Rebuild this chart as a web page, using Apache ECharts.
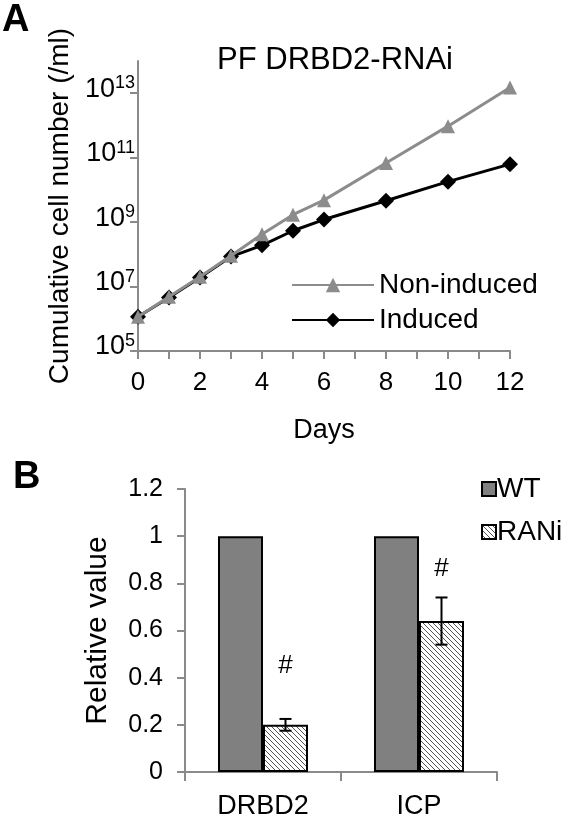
<!DOCTYPE html>
<html>
<head>
<meta charset="utf-8">
<script src="https://cdn.jsdelivr.net/npm/echarts@6/dist/echarts.min.js"></script>
<style>
html,body{margin:0;padding:0;background:#fff;}
#main{width:570px;height:820px;}
</style>
</head>
<body>
<div id="main"></div>
<script>
/*----- 数据 A: 累计细胞数 -----*/
var days = [0, 1, 2, 3, 4, 5, 6, 8, 10, 12];
var nonInduced = [1.15e6, 4.8e6, 2.0e7, 9.0e7, 4.2e8, 1.7e9, 4.8e9, 6.8e10, 9.5e11, 1.5e13];
var induced    = [1.15e6, 4.6e6, 1.9e7, 8.5e7, 1.9e8, 5.4e8, 1.2e9, 4.6e9, 1.8e10, 6.3e10];
var yExpTicks = [5, 7, 9, 11, 13];

/*----- 数据 B: 相对值 -----*/
var genes = ["DRBD2", "ICP"];
var wt = [1, 1];
var rnai = [0.2, 0.64];
var rnaiErr = [0.025, 0.1];
var hashY = [0.45, 0.86];

var FONT = "Liberation Sans, Arial, sans-serif";
var AXIS_GRAY = "#8a8a8a";

// 斜线填充
function hatch() {
    var c = document.createElement("canvas");
    c.width = 5; c.height = 5;
    var ctx = c.getContext("2d");
    ctx.fillStyle = "#fff";
    ctx.fillRect(0, 0, 5, 5);
    ctx.strokeStyle = "#555";
    ctx.lineWidth = 1;
    ctx.beginPath();
    ctx.moveTo(-1, -1); ctx.lineTo(6, 6);
    ctx.moveTo(-1, 4); ctx.lineTo(1, 6);
    ctx.moveTo(4, -1); ctx.lineTo(6, 1);
    ctx.stroke();
    return {image: c, repeat: "repeat"};
}

function toLog(arr) {
    return arr.map(function (v, i) { return [days[i], Math.log10(v)]; });
}

var BAR_W = 45;

var myChart = echarts.init(document.getElementById("main"));
var option = {
    animation: false,
    textStyle: {fontFamily: FONT, color: "#000"},
    title: {
        text: "PF DRBD2-RNAi", left: 330, top: 40, textAlign: "center",
        textStyle: {fontFamily: FONT, fontSize: 31, fontWeight: "normal", color: "#000"}
    },
    graphic: [
        {type: "text", left: 2, top: 2, style: {text: "A", font: "bold 38px " + FONT, fill: "#000"}},
        {type: "text", left: 13, top: 459, style: {text: "B", font: "bold 38px " + FONT, fill: "#000"}}
    ],
    legend: [
        {
            data: ["Non-induced", "Induced"], orient: "vertical",
            left: 286, top: 266, itemWidth: 82, itemHeight: 18, itemGap: 7,
            textStyle: {fontFamily: FONT, fontSize: 28, color: "#000"}
        },
        {
            data: ["WT", "RANi"], orient: "vertical",
            left: 476, top: 470, itemWidth: 14, itemHeight: 14, itemGap: 15, icon: "rect",
            textStyle: {fontFamily: FONT, fontSize: 28, color: "#000", padding: [0, 0, 0, -4]}
        }
    ],
    grid: [
        {left: 138, top: 61, width: 372, height: 290},
        {left: 185, top: 489, width: 312, height: 284}
    ],
    xAxis: [
        {
            gridIndex: 0, type: "value", min: 0, max: 12, interval: 1,
            name: "Days", nameLocation: "middle", nameGap: 66,
            nameTextStyle: {fontSize: 27, fontFamily: FONT, color: "#000"},
            axisLine: {lineStyle: {color: AXIS_GRAY, width: 2}},
            axisTick: {show: true, inside: false, length: 8, lineStyle: {color: AXIS_GRAY, width: 2}},
            axisLabel: {fontSize: 26, color: "#000", margin: 19, formatter: function (v) { return v % 2 ? "" : v; }},
            splitLine: {show: false}
        },
        {
            gridIndex: 1, type: "category", data: genes,
            axisLine: {lineStyle: {color: AXIS_GRAY, width: 2}},
            axisTick: {show: true, length: 9, alignWithLabel: false, lineStyle: {color: AXIS_GRAY, width: 2}},
            axisLabel: {fontSize: 27, color: "#000", margin: 21}
        }
    ],
    yAxis: [
        {
            gridIndex: 0, type: "value", min: 5, max: 14, interval: 2,
            name: "Cumulative cell number (/ml)", nameLocation: "middle", nameGap: 64, nameRotate: 90,
            nameTextStyle: {fontSize: 28, fontFamily: FONT, color: "#000"},
            axisLine: {show: true, lineStyle: {color: AXIS_GRAY, width: 2}},
            axisTick: {show: true, length: 8, customValues: yExpTicks, lineStyle: {color: AXIS_GRAY, width: 2}},
            axisLabel: {
                customValues: yExpTicks, margin: 3, padding: [0, 0, 8, 0],
                formatter: function (v) { return "{b|10}{s|" + v + "}"; },
                rich: {
                    b: {fontSize: 27, color: "#000", fontFamily: FONT},
                    s: {fontSize: 18, color: "#000", fontFamily: FONT, verticalAlign: "top", padding: [0, 0, 12, 0]}
                }
            },
            splitLine: {show: false}
        },
        {
            gridIndex: 1, type: "value", min: 0, max: 1.2, interval: 0.2,
            name: "Relative value", nameLocation: "middle", nameGap: 72, nameRotate: 90,
            nameTextStyle: {fontSize: 30, fontFamily: FONT, color: "#000"},
            axisLine: {show: true, lineStyle: {color: AXIS_GRAY, width: 2}},
            axisTick: {show: true, length: 8, lineStyle: {color: AXIS_GRAY, width: 2}},
            axisLabel: {fontSize: 25, color: "#000", margin: 22},
            splitLine: {show: false}
        }
    ],
    series: [
        {
            name: "Induced", type: "line", xAxisIndex: 0, yAxisIndex: 0, z: 2,
            data: toLog(induced), symbol: "diamond", symbolSize: 16,
            lineStyle: {color: "#000", width: 3}, itemStyle: {color: "#000"}
        },
        {
            name: "Non-induced", type: "line", xAxisIndex: 0, yAxisIndex: 0, z: 3,
            data: toLog(nonInduced), symbol: "triangle", symbolSize: 14,
            lineStyle: {color: "#8c8c8c", width: 3}, itemStyle: {color: "#8c8c8c"}
        },
        {
            name: "WT", type: "bar", xAxisIndex: 1, yAxisIndex: 1, data: wt,
            barWidth: BAR_W, barGap: "0%",
            itemStyle: {color: "#808080", borderColor: "#000", borderWidth: 2}
        },
        {
            name: "RANi", type: "bar", xAxisIndex: 1, yAxisIndex: 1, data: rnai,
            barWidth: BAR_W, barGap: "0%",
            itemStyle: {color: hatch(), borderColor: "#000", borderWidth: 2}
        },
        {
            // 误差线 + # 标记
            type: "custom", xAxisIndex: 1, yAxisIndex: 1, z: 5,
            data: rnai.map(function (v, i) { return [i, v, rnaiErr[i], hashY[i]]; }),
            renderItem: function (params, api) {
                var i = api.value(0);
                var hi = api.coord([i, api.value(1) + api.value(2)]);
                var lo = api.coord([i, api.value(1) - api.value(2)]);
                var h = api.coord([i, api.value(3)]);
                var x = hi[0] + BAR_W / 2;
                var cap = 6;
                var st = {stroke: "#000", lineWidth: 2};
                return {
                    type: "group",
                    children: [
                        {type: "line", shape: {x1: x, y1: hi[1], x2: x, y2: lo[1]}, style: st},
                        {type: "line", shape: {x1: x - cap, y1: hi[1], x2: x + cap, y2: hi[1]}, style: st},
                        {type: "line", shape: {x1: x - cap, y1: lo[1], x2: x + cap, y2: lo[1]}, style: st},
                        {type: "text", x: x, y: h[1], style: {text: "#", font: "26px " + FONT, fill: "#000", align: "center", verticalAlign: "middle"}}
                    ]
                };
            }
        }
    ]
};
myChart.setOption(option);
</script>
</body>
</html>
